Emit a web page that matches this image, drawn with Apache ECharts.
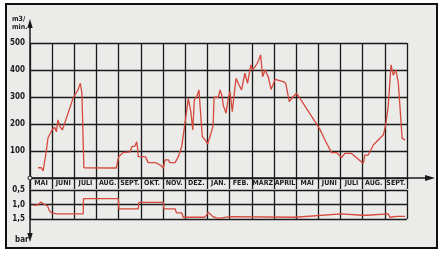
<!DOCTYPE html>
<html><head><meta charset="utf-8">
<script src="https://cdn.jsdelivr.net/npm/echarts@6/dist/echarts.min.js"></script>
<style>html,body{margin:0;padding:0;background:#fff}#c{width:445px;height:253px}</style>
</head><body><div id="c"></div>
<script>
// Month categories (May to Sept. of the following year)
const months = ['MAI','JUNI','JULI','AUG.','SEPT.','OKT.','NOV.','DEZ.','JAN.','FEB.','MÄRZ','APRIL','MAI','JUNI','JULI','AUG.','SEPT.'];
const flowTicks = [0,100,200,300,400,500];
const pressureTicks = ['0,5','1,0','1,5'];
// Flow (m3/min): time in months from start of first MAI, value
const flowT = [0.36,0.51,0.59,0.73,0.81,0.99,1.11,1.19,1.26,1.37,1.46,1.64,1.94,2.02,2.16,2.27,2.34,2.39,2.43,3.89,4.0,4.19,4.51,4.59,4.73,4.81,4.86,4.88,5.11,5.21,5.33,5.64,5.78,5.94,6.01,6.09,6.24,6.31,6.54,6.69,6.84,6.99,7.14,7.25,7.34,7.41,7.52,7.62,7.66,7.77,7.89,8.01,8.16,8.26,8.30,8.49,8.57,8.67,8.71,8.84,8.94,9.02,9.12,9.29,9.39,9.54,9.69,9.81,9.96,10.04,10.14,10.25,10.40,10.49,10.60,10.74,10.87,11.05,11.42,11.53,11.69,11.84,12.02,13.07,13.30,13.60,13.83,14.05,14.20,14.50,15.03,15.10,15.25,15.48,15.78,15.93,16.04,16.07,16.15,16.28,16.38,16.50,16.61,16.78,16.83,16.91];
const flowV = [38,38,26,97,148,178,188,171,215,188,178,221,295,307,326,351,314,318,38,37,79,94,97,116,118,134,104,79,79,78,57,57,52,44,36,67,67,57,57,79,116,203,295,246,178,289,301,326,277,153,141,126,165,196,299,299,326,301,270,240,295,320,246,369,351,326,388,351,419,400,412,425,456,375,400,375,328,365,357,351,283,299,314,181,141,94,94,76,91,91,54,85,85,122,147,159,196,190,264,419,381,400,351,147,141,141];
// Pressure (bar)
const presT = [0.14,0.37,0.48,0.57,0.68,0.78,0.87,0.98,1.20,2.40,2.41,3.98,4.01,4.88,4.91,6.01,6.04,6.54,6.61,6.84,6.91,7.89,8.04,8.25,8.42,8.57,9.02,11.95,14.05,14.13,14.95,15.03,15.18,16.15,16.23,16.31,16.53,16.91];
const presV = [1.03,1.01,0.92,0.92,1.01,1.03,1.21,1.29,1.32,1.32,0.80,0.80,1.15,1.15,0.93,0.93,1.15,1.15,1.29,1.29,1.44,1.44,1.27,1.42,1.46,1.47,1.42,1.44,1.32,1.38,1.37,1.32,1.37,1.32,1.44,1.46,1.41,1.41];

const RED = '#d6493c', INK = '#1a1a1a';
const FONT = "'DejaVu Sans Condensed','Liberation Sans Narrow',sans-serif";
const L = 30, R = 38;
const chart = echarts.init(document.getElementById('c'), null, {renderer:'canvas'});
const gridLine = {show:true, lineStyle:{color:INK, width:1.3}};
const lbl = {color:INK, fontFamily:FONT, fontWeight:'bold', fontSize:8};
chart.setOption({
  backgroundColor:'#ffffff',
  animation:false,
  title:[
    {text:'m3/\nmin.', left:7, top:10, textStyle:{color:INK, fontFamily:FONT, fontWeight:'bold', fontSize:7, lineHeight:8}},
    {text:'bar', left:10, top:231, textStyle:{color:INK, fontFamily:FONT, fontWeight:'bold', fontSize:8}}
  ],
  grid:[
    {left:L, right:R, top:43, height:135},
    {left:L, right:R, top:178, height:11},
    {left:L, right:R, top:190, height:29}
  ],
  xAxis:[
    {gridIndex:0, type:'value', min:0, max:17, interval:1, axisLine:{show:false}, axisTick:{show:false}, axisLabel:{show:false}, splitLine:gridLine},
    {gridIndex:1, type:'category', data:months, boundaryGap:true, axisLine:{show:false}, axisTick:{show:false},
      axisLabel:Object.assign({}, lbl, {fontSize:7, margin:-6, verticalAlign:'middle', interval:0}), splitLine:Object.assign({interval:0}, gridLine)},
    {gridIndex:2, type:'value', min:0, max:17, interval:1, axisLine:{show:false}, axisTick:{show:false}, axisLabel:{show:false}, splitLine:gridLine}
  ],
  yAxis:[
    {gridIndex:0, type:'value', min:0, max:500, interval:100, axisLine:{show:false}, axisTick:{show:false},
      axisLabel:Object.assign({}, lbl, {margin:5, formatter:v => (v === 0 ? '' : String(flowTicks[v/100]))}), splitLine:gridLine},
    {gridIndex:1, type:'value', show:false},
    {gridIndex:2, type:'value', min:0.5, max:1.5, interval:0.5, inverse:true, axisLine:{show:false}, axisTick:{show:false},
      axisLabel:Object.assign({}, lbl, {margin:5, formatter:v => pressureTicks[Math.round((v-0.5)/0.5)]}), splitLine:gridLine}
  ],
  series:[
    {type:'line', xAxisIndex:0, yAxisIndex:0, data:flowT.map((t,i)=>[t, flowV[i]]), showSymbol:false, lineStyle:{color:RED, width:1.3}, z:5},
    {type:'line', xAxisIndex:2, yAxisIndex:2, data:presT.map((t,i)=>[t, presV[i]]), showSymbol:false, lineStyle:{color:RED, width:1.3}, z:5}
  ],
  graphic:[
    {type:'rect', z:-10, shape:{x:6, y:4, width:431, height:244}, style:{fill:'#ebebea', stroke:'#111', lineWidth:2}},
    {type:'line', z:10, shape:{x1:30, y1:24, x2:30, y2:236}, style:{stroke:INK, lineWidth:1.5}},
    {type:'polygon', z:10, shape:{points:[[30,19],[27.3,28],[32.7,28]]}, style:{fill:INK}},
    {type:'polygon', z:10, shape:{points:[[30,242],[27.3,233],[32.7,233]]}, style:{fill:INK}},
    {type:'line', z:10, shape:{x1:30, y1:178, x2:428, y2:178}, style:{stroke:INK, lineWidth:1.5}},
    {type:'polygon', z:10, shape:{points:[[435,178],[425,175],[425,181]]}, style:{fill:INK}},
    {type:'circle', z:11, shape:{cx:30, cy:178, r:2}, style:{fill:'#ebebea', stroke:INK, lineWidth:1}}
  ]
});
</script></body></html>
